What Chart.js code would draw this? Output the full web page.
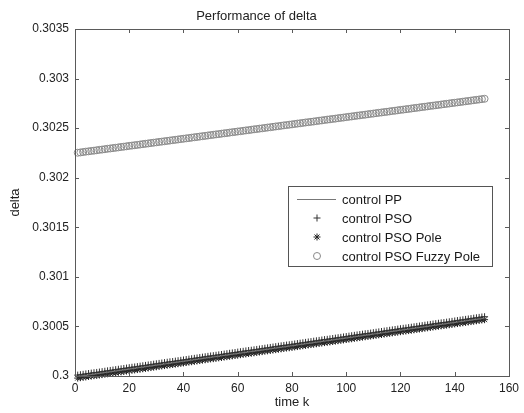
<!DOCTYPE html>
<html><head><meta charset="utf-8">
<script src="https://cdn.jsdelivr.net/npm/chart.js@4/dist/chart.umd.min.js"></script>
<style>html,body{margin:0;padding:0;background:#fff}#wrap{width:524px;height:413px}</style>
</head><body><div id="wrap"><canvas id="c" width="524" height="413"></canvas></div>
<script>
const chartTitle = "Performance of delta";
const xTitle = "time k";
const yTitle = "delta";
const seriesLabels = ["control PP", "control PSO", "control PSO Pole", "control PSO Fuzzy Pole"];
const xTicks = [0, 20, 40, 60, 80, 100, 120, 140, 160];
const yTicks = [0.3, 0.3005, 0.301, 0.3015, 0.302, 0.3025, 0.303, 0.3035];

const timeK = [1,2,3,4,5,6,7,8,9,10,11,12,13,14,15,16,17,18,19,20,21,22,23,24,25,26,27,28,29,30,31,32,33,34,35,36,37,38,39,40,41,42,43,44,45,46,47,48,49,50,51,52,53,54,55,56,57,58,59,60,61,62,63,64,65,66,67,68,69,70,71,72,73,74,75,76,77,78,79,80,81,82,83,84,85,86,87,88,89,90,91,92,93,94,95,96,97,98,99,100,101,102,103,104,105,106,107,108,109,110,111,112,113,114,115,116,117,118,119,120,121,122,123,124,125,126,127,128,129,130,131,132,133,134,135,136,137,138,139,140,141,142,143,144,145,146,147,148,149,150,151];

const ppK = [1, 50, 100, 151];
const ppValues = [0.299995, 0.300188, 0.300383, 0.300583];

const psoValues = [0.300009,0.300013,0.300017,0.300021,0.300025,0.300029,0.300033,0.300036,0.300040,0.300044,
0.300048,0.300052,0.300056,0.300060,0.300064,0.300068,0.300072,0.300076,0.300080,0.300084,
0.300088,0.300091,0.300095,0.300099,0.300103,0.300107,0.300111,0.300115,0.300119,0.300123,
0.300127,0.300131,0.300135,0.300139,0.300143,0.300146,0.300150,0.300154,0.300158,0.300162,
0.300166,0.300170,0.300174,0.300178,0.300182,0.300186,0.300190,0.300194,0.300198,0.300202,
0.300205,0.300209,0.300213,0.300217,0.300221,0.300225,0.300229,0.300233,0.300237,0.300241,
0.300245,0.300249,0.300253,0.300257,0.300260,0.300264,0.300268,0.300272,0.300276,0.300280,
0.300284,0.300288,0.300292,0.300296,0.300300,0.300304,0.300308,0.300312,0.300315,0.300319,
0.300323,0.300327,0.300331,0.300335,0.300339,0.300343,0.300347,0.300351,0.300355,0.300359,
0.300363,0.300367,0.300370,0.300374,0.300378,0.300382,0.300386,0.300390,0.300394,0.300398,
0.300402,0.300406,0.300410,0.300414,0.300418,0.300422,0.300426,0.300429,0.300433,0.300437,
0.300441,0.300445,0.300449,0.300453,0.300457,0.300461,0.300465,0.300469,0.300473,0.300477,
0.300481,0.300484,0.300488,0.300492,0.300496,0.300500,0.300504,0.300508,0.300512,0.300516,
0.300520,0.300524,0.300528,0.300532,0.300536,0.300539,0.300543,0.300547,0.300551,0.300555,
0.300559,0.300563,0.300567,0.300571,0.300575,0.300579,0.300583,0.300587,0.300591,0.300595,0.300598];

const poleValues = [0.299979,0.299983,0.299987,0.299991,0.299995,0.299999,0.300003,0.300006,0.300010,0.300014,
0.300018,0.300022,0.300026,0.300030,0.300034,0.300038,0.300042,0.300046,0.300050,0.300054,
0.300058,0.300061,0.300065,0.300069,0.300073,0.300077,0.300081,0.300085,0.300089,0.300093,
0.300097,0.300101,0.300105,0.300109,0.300113,0.300116,0.300120,0.300124,0.300128,0.300132,
0.300136,0.300140,0.300144,0.300148,0.300152,0.300156,0.300160,0.300164,0.300168,0.300172,
0.300175,0.300179,0.300183,0.300187,0.300191,0.300195,0.300199,0.300203,0.300207,0.300211,
0.300215,0.300219,0.300223,0.300227,0.300230,0.300234,0.300238,0.300242,0.300246,0.300250,
0.300254,0.300258,0.300262,0.300266,0.300270,0.300274,0.300278,0.300282,0.300285,0.300289,
0.300293,0.300297,0.300301,0.300305,0.300309,0.300313,0.300317,0.300321,0.300325,0.300329,
0.300333,0.300337,0.300340,0.300344,0.300348,0.300352,0.300356,0.300360,0.300364,0.300368,
0.300372,0.300376,0.300380,0.300384,0.300388,0.300392,0.300396,0.300399,0.300403,0.300407,
0.300411,0.300415,0.300419,0.300423,0.300427,0.300431,0.300435,0.300439,0.300443,0.300447,
0.300451,0.300454,0.300458,0.300462,0.300466,0.300470,0.300474,0.300478,0.300482,0.300486,
0.300490,0.300494,0.300498,0.300502,0.300506,0.300509,0.300513,0.300517,0.300521,0.300525,
0.300529,0.300533,0.300537,0.300541,0.300545,0.300549,0.300553,0.300557,0.300561,0.300565,0.300568];

const fuzzyValues = [0.302252,0.302255,0.302259,0.302263,0.302266,0.302270,0.302273,0.302277,0.302281,0.302284,
0.302288,0.302292,0.302295,0.302299,0.302302,0.302306,0.302310,0.302313,0.302317,0.302321,
0.302324,0.302328,0.302331,0.302335,0.302339,0.302342,0.302346,0.302350,0.302353,0.302357,
0.302361,0.302364,0.302368,0.302371,0.302375,0.302379,0.302382,0.302386,0.302390,0.302393,
0.302397,0.302400,0.302404,0.302408,0.302411,0.302415,0.302419,0.302422,0.302426,0.302430,
0.302433,0.302437,0.302440,0.302444,0.302448,0.302451,0.302455,0.302459,0.302462,0.302466,
0.302469,0.302473,0.302477,0.302480,0.302484,0.302488,0.302491,0.302495,0.302498,0.302502,
0.302506,0.302509,0.302513,0.302517,0.302520,0.302524,0.302528,0.302531,0.302535,0.302538,
0.302542,0.302546,0.302549,0.302553,0.302557,0.302560,0.302564,0.302567,0.302571,0.302575,
0.302578,0.302582,0.302586,0.302589,0.302593,0.302596,0.302600,0.302604,0.302607,0.302611,
0.302615,0.302618,0.302622,0.302626,0.302629,0.302633,0.302636,0.302640,0.302644,0.302647,
0.302651,0.302655,0.302658,0.302662,0.302665,0.302669,0.302673,0.302676,0.302680,0.302684,
0.302687,0.302691,0.302694,0.302698,0.302702,0.302705,0.302709,0.302713,0.302716,0.302720,
0.302724,0.302727,0.302731,0.302734,0.302738,0.302742,0.302745,0.302749,0.302753,0.302756,
0.302760,0.302763,0.302767,0.302771,0.302774,0.302778,0.302782,0.302785,0.302789,0.302793,0.302796];

const FONT = "'Liberation Sans', Arial, sans-serif";
const toPts = (xs, ys) => xs.map((x, i) => ({x: x, y: ys[i]}));

const frameAndLegend = {
  id: 'frameAndLegend',
  afterDraw(chart) {
    const ctx = chart.ctx, a = chart.chartArea;
    const xs = chart.scales.x, ys = chart.scales.y;
    ctx.save();
    ctx.strokeStyle = '#5a5a5a';
    ctx.lineWidth = 1;
    ctx.strokeRect(Math.round(a.left) + 0.5, Math.round(a.top) + 0.5, Math.round(a.right - a.left), Math.round(a.bottom - a.top));
    ctx.beginPath();
    const tl = 4;
    xTicks.forEach(v => {
      const px = Math.round(xs.getPixelForValue(v)) + 0.5;
      ctx.moveTo(px, a.bottom); ctx.lineTo(px, a.bottom - tl);
      ctx.moveTo(px, a.top); ctx.lineTo(px, a.top + tl);
    });
    yTicks.forEach(v => {
      const py = Math.round(ys.getPixelForValue(v)) + 0.5;
      ctx.moveTo(a.left, py); ctx.lineTo(a.left + tl, py);
      ctx.moveTo(a.right, py); ctx.lineTo(a.right - tl, py);
    });
    ctx.stroke();

    // legend
    const bx = 288, by = 186, bw = 204, bh = 80;
    ctx.fillStyle = '#fff';
    ctx.fillRect(bx, by, bw, bh);
    ctx.strokeStyle = '#555';
    ctx.strokeRect(bx + 0.5, by + 0.5, bw, bh);
    ctx.font = '13px ' + FONT;
    ctx.textBaseline = 'middle';
    ctx.textAlign = 'left';
    const rowY = [199, 218, 237, 256];
    chart.data.datasets.forEach((ds, i) => {
      const y = rowY[i];
      if (i === 0) {
        ctx.strokeStyle = '#777';
        ctx.lineWidth = 1;
        ctx.beginPath(); ctx.moveTo(297, y + 0.5); ctx.lineTo(336, y + 0.5); ctx.stroke();
      } else {
        ctx.strokeStyle = ds.borderColor;
        ctx.fillStyle = 'rgba(0,0,0,0)';
        ctx.lineWidth = ds.borderWidth || 1;
        Chart.helpers.drawPoint(ctx, {pointStyle: ds.pointStyle, radius: ds.pointRadius, borderWidth: ds.borderWidth, rotation: 0}, 317, y);
      }
      ctx.fillStyle = '#1a1a1a';
      ctx.fillText(ds.label, 342, y + 1);
    });
    ctx.restore();
  }
};

new Chart(document.getElementById('c'), {
  type: 'scatter',
  data: {
    datasets: [
      {label: seriesLabels[0], data: toPts(ppK, ppValues), showLine: true, pointRadius: 0, borderColor: '#777', borderWidth: 1, pointStyle: 'line', clip: 8},
      {label: seriesLabels[1], data: toPts(timeK, psoValues), showLine: false, pointStyle: 'cross', pointRadius: 3.5, borderColor: '#333', backgroundColor: 'rgba(0,0,0,0)', borderWidth: 1, clip: 8},
      {label: seriesLabels[2], data: toPts(timeK, poleValues), showLine: false, pointStyle: 'star', pointRadius: 3.5, borderColor: '#222', backgroundColor: 'rgba(0,0,0,0)', borderWidth: 1, clip: 8},
      {label: seriesLabels[3], data: toPts(timeK, fuzzyValues), showLine: false, pointStyle: 'circle', pointRadius: 3.5, borderColor: '#8a8a8a', backgroundColor: 'rgba(0,0,0,0)', borderWidth: 1, clip: 8}
    ]
  },
  options: {
    responsive: false,
    animation: false,
    events: [],
    layout: {padding: {left: 0, right: 11, top: 0, bottom: 0}},
    plugins: {
      legend: {display: false},
      tooltip: {enabled: false},
      title: {display: true, text: chartTitle, color: '#222', font: {family: FONT, size: 13, weight: 'normal'}, padding: {top: 9, bottom: 4.4}}
    },
    scales: {
      x: {
        type: 'linear', min: 0, max: 160,
        afterBuildTicks: s => { s.ticks = xTicks.map(v => ({value: v})); },
        afterFit: s => { s.height = 37; },
        grid: {display: false, drawTicks: false},
        border: {display: false},
        ticks: {color: '#222', font: {family: FONT, size: 12}, padding: 5, maxRotation: 0},
        title: {display: true, text: xTitle, color: '#222', font: {family: FONT, size: 13}, padding: {top: 0, bottom: 3}}
      },
      y: {
        type: 'linear', min: 0.3, max: 0.3035,
        afterBuildTicks: s => { s.ticks = yTicks.map(v => ({value: v})); },
        afterFit: s => { s.width = 75; },
        grid: {display: false, drawTicks: false},
        border: {display: false},
        ticks: {color: '#222', font: {family: FONT, size: 12}, padding: 6, callback: v => String(+v.toFixed(4))},
        title: {display: true, text: yTitle, color: '#222', font: {family: FONT, size: 13}, padding: {top: 8, bottom: 0}}
      }
    }
  },
  plugins: [frameAndLegend]
});
</script>
</body></html>
